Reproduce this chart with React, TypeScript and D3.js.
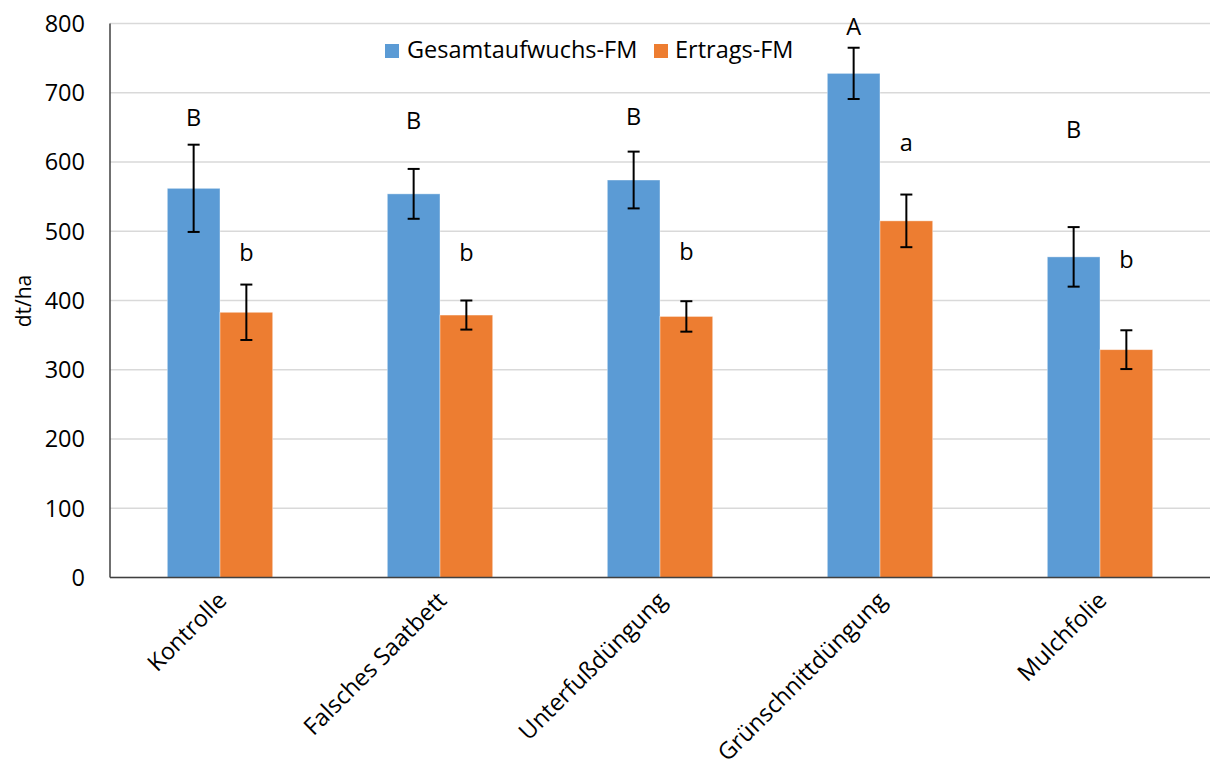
import React from "react";
import * as d3 from "d3";

const categories = ["Kontrolle", "Falsches Saatbett", "Unterfußdüngung", "Grünschnittdüngung", "Mulchfolie"];
const seriesNames = ["Gesamtaufwuchs-FM", "Ertrags-FM"];
const gesamt = [562, 554, 574, 728, 463];
const gesamtErr = [63, 36, 41, 37, 43];
const ertrag = [383, 379, 377, 515, 329];
const ertragErr = [40, 21, 22, 38, 28];
const gesamtLetters = ["B", "B", "B", "A", "B"];
const gesamtLetterY = [652, 648, 653, 783, 635];
const ertragLetters = ["b", "b", "b", "a", "b"];
const ertragLetterY = [457, 457, 458, 616, 447];
const yTicks = [0, 100, 200, 300, 400, 500, 600, 700, 800];
const colors = ["#5B9BD5", "#ED7D31"];

const W = 1210;
const H = 767;
const FONT = "'Open Sans', sans-serif";
const FS = 23.5;

export default function App() {
  const x0 = d3.scaleBand<string>().domain(categories).range([110, 1210]).paddingInner(0).paddingOuter(0);
  const x1 = d3.scaleBand<string>().domain(seriesNames).range([0, x0.bandwidth()]).paddingInner(0).paddingOuter(1.087);
  const y = d3.scaleLinear().domain([0, 800]).range([577.5, 23.5]);

  const series = [
    { name: seriesNames[0], vals: gesamt, errs: gesamtErr, letters: gesamtLetters, ly: gesamtLetterY, color: colors[0] },
    { name: seriesNames[1], vals: ertrag, errs: ertragErr, letters: ertragLetters, ly: ertragLetterY, color: colors[1] },
  ];
  const bw = x1.bandwidth();

  return (
    <svg width={W} height={H} style={{ position: "absolute", left: 0, top: 0, background: "#fff" }} fontFamily={FONT}>
      {yTicks.map((t) => (
        <line key={"g" + t} x1={110} x2={1210} y1={y(t)} y2={y(t)} stroke="#d9d9d9" strokeWidth={1.5} />
      ))}
      {series.map((s) =>
        categories.map((c, i) => (
          <rect
            key={s.name + c}
            x={(x0(c) as number) + (x1(s.name) as number)}
            y={y(s.vals[i])}
            width={bw}
            height={y(0) - y(s.vals[i])}
            fill={s.color}
            stroke="#ffffff"
            strokeOpacity={0.5}
            strokeWidth={0.8}
          />
        ))
      )}
      {series.map((s) =>
        categories.map((c, i) => {
          const cx = (x0(c) as number) + (x1(s.name) as number) + bw / 2;
          const yt = y(s.vals[i] + s.errs[i]);
          const yb = y(s.vals[i] - s.errs[i]);
          return (
            <g key={"e" + s.name + c} stroke="#000" strokeWidth={2}>
              <line x1={cx} x2={cx} y1={yt} y2={yb} />
              <line x1={cx - 6} x2={cx + 6} y1={yt} y2={yt} />
              <line x1={cx - 6} x2={cx + 6} y1={yb} y2={yb} />
            </g>
          );
        })
      )}
      {series.map((s) =>
        categories.map((c, i) => {
          const cx = (x0(c) as number) + (x1(s.name) as number) + bw / 2;
          return (
            <text key={"l" + s.name + c} x={cx} y={y(s.ly[i])} textAnchor="middle" fontSize={FS} fill="#000">
              {s.letters[i]}
            </text>
          );
        })
      )}
      <line x1={110} x2={110} y1={y(800)} y2={y(0)} stroke="#404040" strokeWidth={1.5} />
      <line x1={110} x2={1210} y1={y(0)} y2={y(0)} stroke="#404040" strokeWidth={1.5} />
      {yTicks.map((t) => (
        <text key={"t" + t} x={85} y={y(t)} dy="0.36em" textAnchor="end" fontSize={FS} fill="#000">
          {t}
        </text>
      ))}
      {categories.map((c) => {
        const cx = (x0(c) as number) + x0.bandwidth() / 2;
        return (
          <text
            key={"c" + c}
            transform={`translate(${cx + 8},${602}) rotate(-45)`}
            textAnchor="end"
            fontSize={FS}
            fill="#000"
          >
            {c}
          </text>
        );
      })}
      <text transform={`translate(31,301) rotate(-90)`} textAnchor="middle" fontSize={21} fill="#000">
        dt/ha
      </text>
      <rect x={385} y={44} width={14} height={14} fill={colors[0]} />
      <text x={407} y={58} fontSize={FS} fill="#000">{seriesNames[0]}</text>
      <rect x={654} y={44} width={14} height={14} fill={colors[1]} />
      <text x={675} y={58} fontSize={FS} fill="#000">{seriesNames[1]}</text>
    </svg>
  );
}
